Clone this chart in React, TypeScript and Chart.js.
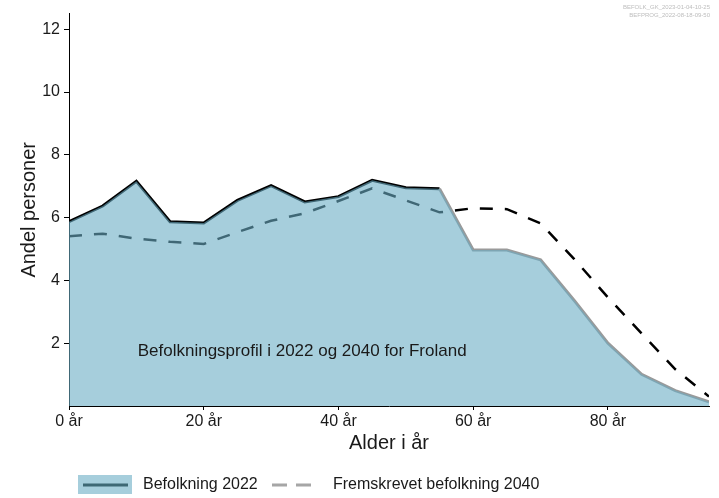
import React, { useEffect, useRef } from 'react';
import { Chart, registerables } from 'chart.js';

Chart.register(...registerables);

// ---- data ----
const ages = [0, 5, 10, 15, 20, 25, 30, 35, 40, 45, 50, 55, 60, 65, 70, 75, 80, 85, 90, 95];
const befolkning2022 = [5.87, 6.37, 7.16, 5.87, 5.83, 6.55, 7.02, 6.5, 6.67, 7.19, 6.95, 6.92, 4.97, 4.97, 4.66, 3.36, 2.0, 1.01, 0.49, 0.13];
const fremskrevet2040 = [5.41, 5.49, 5.33, 5.23, 5.16, 5.54, 5.9, 6.14, 6.53, 6.93, 6.55, 6.17, 6.3, 6.27, 5.82, 4.68, 3.46, 2.31, 1.17, 0.3];
const xTickValues = [0, 20, 40, 60, 80];
const yTickValues = [2, 4, 6, 8, 10, 12];
const xAxisTitle = 'Alder i år';
const yAxisTitle = 'Andel personer';
const annotationText = 'Befolkningsprofil i 2022 og 2040 for Froland';
const legendLabels = ['Befolkning 2022', 'Fremskrevet befolkning 2040'];
const watermarkLines = ['BEFOLK_GK_2023-01-04-10-25', 'BEFPROG_2022-08-18-09-50'];

const FONT = "'Liberation Sans', Arial, Helvetica, sans-serif";
const FILL = 'rgba(107,173,197,0.6)';
const TEXT = '#1a1a1a';

const decorPlugin = {
  id: 'decor',
  afterDraw(chart: any) {
    const ctx = chart.ctx;
    const xs = chart.scales.x;
    const ys = chart.scales.y;
    ctx.save();
    // annotation inside plot
    ctx.font = `17px ${FONT}`;
    ctx.fillStyle = TEXT;
    ctx.textAlign = 'left';
    ctx.textBaseline = 'alphabetic';
    ctx.fillText(annotationText, xs.getPixelForValue(10.2), ys.getPixelForValue(1.58));

    // watermark
    ctx.font = `6px ${FONT}`;
    ctx.fillStyle = '#bdbdbd';
    ctx.textAlign = 'right';
    ctx.textBaseline = 'middle';
    ctx.fillText(watermarkLines[0], 710, 7);
    ctx.fillText(watermarkLines[1], 710, 15);

    // legend
    const ly = 485;
    ctx.fillStyle = 'rgb(166,206,220)';
    ctx.fillRect(78, 475, 54, 19);
    ctx.strokeStyle = '#3d6874';
    ctx.lineWidth = 3;
    ctx.beginPath();
    ctx.moveTo(83, ly);
    ctx.lineTo(128, ly);
    ctx.stroke();
    ctx.font = `16px ${FONT}`;
    ctx.fillStyle = TEXT;
    ctx.textAlign = 'left';
    ctx.textBaseline = 'middle';
    ctx.fillText(legendLabels[0], 143, ly);

    ctx.strokeStyle = '#a6a6a6';
    ctx.lineWidth = 3;
    ctx.setLineDash([15, 9]);
    ctx.beginPath();
    ctx.moveTo(272, ly);
    ctx.lineTo(311, ly);
    ctx.stroke();
    ctx.setLineDash([]);
    ctx.fillText(legendLabels[1], 333, ly);
    ctx.restore();
  },
};

export default function App() {
  const ref = useRef<HTMLCanvasElement | null>(null);

  useEffect(() => {
    const canvas = ref.current;
    if (!canvas) return;
    const pts2022 = ages.map((a, i) => ({ x: a, y: befolkning2022[i] }));
    const pts2040 = ages.map((a, i) => ({ x: a, y: fremskrevet2040[i] }));

    const chart = new Chart(canvas, {
      type: 'line',
      data: {
        datasets: [
          {
            label: 'fill',
            data: pts2022,
            borderColor: 'transparent',
            borderWidth: 0,
            backgroundColor: FILL,
            fill: 'origin',
            pointRadius: 0,
            order: 0,
          },
          {
            label: legendLabels[0],
            data: pts2022,
            borderColor: '#000',
            borderWidth: 3,
            fill: false,
            pointRadius: 0,
            order: 1,
            segment: {
              borderColor: (c: any) => (c.p0DataIndex >= 11 ? '#9a9a9a' : '#000'),
            },
          },
          {
            label: legendLabels[1],
            data: pts2040,
            borderColor: '#000',
            borderWidth: 2.5,
            borderDash: [13, 12],
            fill: false,
            pointRadius: 0,
            order: 2,
          },
        ],
      } as any,
      options: {
        responsive: false,
        animation: false,
        devicePixelRatio: 1,
        layout: { padding: { left: 0, right: 10, top: 6, bottom: 0 } },
        plugins: {
          legend: { display: false },
          tooltip: { enabled: false },
        },
        scales: {
          x: {
            type: 'linear',
            min: 0,
            max: 95,
            afterBuildTicks: (s: any) => {
              s.ticks = xTickValues.map((v) => ({ value: v }));
            },
            afterFit: (s: any) => {
              s.height = 92;
            },
            ticks: {
              callback: (v: any) => `${v} år`,
              font: { size: 16, family: FONT },
              color: TEXT,
              padding: 2,
              maxRotation: 0,
              autoSkip: false,
            },
            grid: { drawOnChartArea: false, drawTicks: true, tickLength: 4, color: '#000' },
            border: { display: true, color: '#000', width: 1 },
            title: {
              display: true,
              text: xAxisTitle,
              font: { size: 20, family: FONT },
              color: TEXT,
              padding: { top: 0, bottom: 43 },
            },
          },
          y: {
            type: 'linear',
            min: 0,
            max: 12.5,
            afterBuildTicks: (s: any) => {
              s.ticks = yTickValues.map((v) => ({ value: v }));
            },
            afterFit: (s: any) => {
              s.width = 69;
            },
            ticks: {
              font: { size: 16, family: FONT },
              color: TEXT,
              padding: 4,
              autoSkip: false,
            },
            grid: { drawOnChartArea: false, drawTicks: true, tickLength: 5, color: '#000' },
            border: { display: true, color: '#000', width: 1 },
            title: {
              display: true,
              text: yAxisTitle,
              font: { size: 20, family: FONT },
              color: TEXT,
              padding: { top: 17, bottom: 0 },
            },
          },
        },
      } as any,
      plugins: [decorPlugin],
    });
    return () => chart.destroy();
  }, []);

  return (
    <div style={{ position: 'fixed', left: 0, top: 0, width: 719, height: 498, background: '#fff' }}>
      <canvas ref={ref} width={719} height={498} style={{ display: 'block' }} />
    </div>
  );
}
